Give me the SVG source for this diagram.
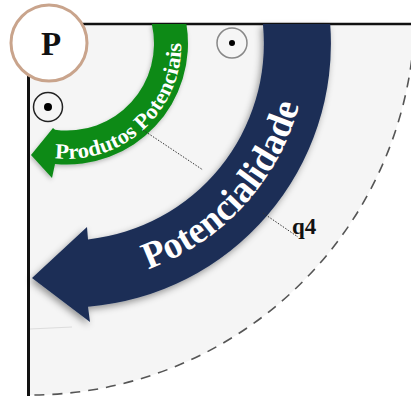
<svg xmlns="http://www.w3.org/2000/svg" width="411" height="398" viewBox="0 0 411 398">
  <defs>
    <filter id="shadow" x="-20%" y="-20%" width="140%" height="140%">
      <feDropShadow dx="-2" dy="3" stdDeviation="3.5" flood-color="#000" flood-opacity="0.4"/>
    </filter>
    <filter id="shadowSoft" x="-20%" y="-20%" width="140%" height="140%">
      <feDropShadow dx="-1" dy="2" stdDeviation="2" flood-color="#000" flood-opacity="0.25"/>
    </filter>
    <!-- baselines for the curved labels, centred on (67,43.5) -->
    <path id="greenBase" d="M 47.0,157.0 A 114 114 0 0 0 179.3,23.7"/>
    <path id="navyBase" d="M 129.1,275.3 A 240 240 0 0 0 306.1,64.4"/>
  </defs>
  <style>
    .axis { stroke: #111; fill: none; }
    .lbl { font-family: "Liberation Serif", "Times New Roman", serif; font-weight: bold; }
    .band-text { fill: #fff; }
    .guide { stroke: #333; stroke-width: 1; stroke-dasharray: 1.5 1.5; fill: none; }
    .dotmark circle.ring { fill: none; }
  </style>

  <rect width="411" height="398" fill="#fff"/>

  <!-- quadrant field -->
  <g id="field">
    <path d="M 28,24 H 414.7 A 385 385 0 0 1 28,395 Z" fill="#f5f5f5"/>
    <path d="M 414.7,24 A 385 385 0 0 1 28,395" fill="none" stroke="#555" stroke-width="1.6" stroke-dasharray="10 8"/>
    <line x1="30" y1="329" x2="72" y2="327" stroke="#ddd" stroke-width="1"/>
  </g>

  <!-- axes -->
  <g id="axes">
    <line class="axis" x1="28" y1="24" x2="411" y2="24" stroke-width="2.5"/>
    <line class="axis" x1="28.5" y1="24" x2="28.5" y2="396" stroke-width="3"/>
  </g>

  <!-- outer arrow: Potencialidade -->
  <g id="potencialidade">
    <path d="M 262.9,24 L 330.2,24 A 264 264 0 0 1 88,306.7 L 90,322 L 32,278 L 87,227 L 88,239.4 A 197 197 0 0 0 262.9,24 Z" fill="#1c2f57" filter="url(#shadow)"/>
    <text class="lbl band-text" font-size="38"><textPath href="#navyBase" startOffset="20" textLength="232" lengthAdjust="spacingAndGlyphs">Potencialidade</textPath></text>
  </g>

  <!-- inner arrow: Produtos Potenciais -->
  <g id="produtos">
    <path d="M 151.8,24 L 186.4,24 A 121 121 0 0 1 55,163.9 L 52,178 L 31,155 L 53,128 L 55,129.7 A 87 87 0 0 0 151.8,24 Z" fill="#0a8a16" filter="url(#shadowSoft)"/>
    <text class="lbl band-text" font-size="21.5"><textPath href="#greenBase" startOffset="8" textLength="193" lengthAdjust="spacingAndGlyphs">Produtos Potenciais</textPath></text>
  </g>

  <!-- out-of-plane markers -->
  <g id="marker-left" class="dotmark">
    <circle class="ring" cx="48" cy="107" r="14.5" stroke="#222" stroke-width="1.5"/>
    <circle cx="48" cy="107" r="4" fill="#000"/>
  </g>
  <g id="marker-top" class="dotmark">
    <circle class="ring" cx="232" cy="43" r="15" stroke="#888" stroke-width="1.5"/>
    <circle cx="232" cy="43" r="3" fill="#000"/>
  </g>

  <!-- guide lines -->
  <g id="connectors">
    <line class="guide" x1="143" y1="130" x2="203" y2="170"/>
    <line class="guide" x1="263" y1="213" x2="298" y2="237"/>
  </g>

  <g id="q4">
    <text class="lbl" x="292" y="234" font-size="23" fill="#111">q4</text>
  </g>

  <!-- origin badge -->
  <g id="origin-p">
    <circle cx="49" cy="43" r="38" fill="#fff" stroke="#c9a48c" stroke-width="3"/>
    <text class="lbl" x="51" y="55" font-size="33" text-anchor="middle" fill="#111">P</text>
  </g>
</svg>
